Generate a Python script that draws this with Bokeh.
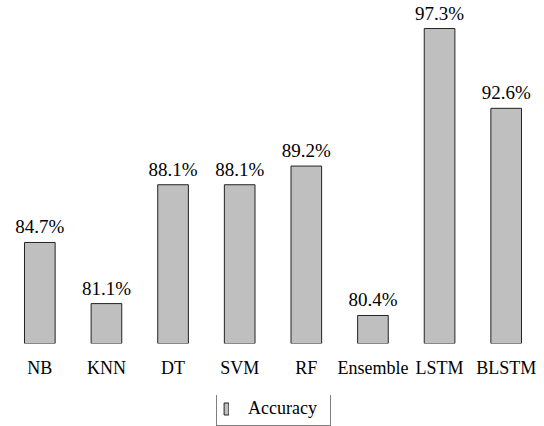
from bokeh.plotting import figure
from bokeh.layouts import column
from bokeh.models import ColumnDataSource, Range1d, Legend, LegendItem
from bokeh.core.properties import value
from bokeh.embed import file_html
from bokeh.resources import INLINE

categories = ["NB", "KNN", "DT", "SVM", "RF", "Ensemble", "LSTM", "BLSTM"]
accuracy = [84.7, 81.1, 88.1, 88.1, 89.2, 80.4, 97.3, 92.6]
labels = [f"{v}%" for v in accuracy]
series_name = "Accuracy"

Y_MIN, Y_MAX = 78.75, 98.95
FONT = "Liberation Serif"
BAR_FILL = "#bfbfbf"
BAR_LINE = "#222222"

src = ColumnDataSource(dict(cat=categories, acc=accuracy, lab=labels,
                            base=[Y_MIN] * len(categories)))

p = figure(x_range=categories, y_range=Range1d(Y_MIN, Y_MAX),
           width=544, height=395, output_backend="svg", toolbar_location=None,
           y_axis_location=None, min_border_left=6, min_border_right=5,
           min_border_top=0, min_border_bottom=52)
p.x_range.range_padding = 0
p.outline_line_color = None
p.xgrid.grid_line_color = None
p.ygrid.grid_line_color = None

bars = p.vbar(x="cat", top="acc", bottom="base", width=0.46, source=src,
              fill_color=BAR_FILL, line_color=BAR_LINE, line_width=1)

p.text(x="cat", y="acc", text="lab", source=src, text_align="center",
       text_baseline="bottom", y_offset=-5, text_font_size="19px",
       text_font=value(FONT), text_color="black")

ax = p.xaxis[0]
ax.axis_line_color = None
ax.major_tick_line_color = None
ax.minor_tick_line_color = None
ax.major_tick_out = 0
ax.major_label_standoff = 14
ax.major_label_text_font = FONT
ax.major_label_text_font_size = "18px"
ax.major_label_text_color = "black"

# Legend strip below the chart
lg = figure(width=544, height=31, output_backend="svg", toolbar_location=None,
            x_range=p.x_range, y_range=Range1d(1000, 1001),
            x_axis_location=None, y_axis_location=None,
            min_border=0, min_border_left=6, min_border_right=5,
            min_border_top=0, min_border_bottom=0)
lg.outline_line_color = None
lg.xgrid.grid_line_color = None
lg.ygrid.grid_line_color = None
proxy = lg.vbar(x="cat", top="acc", bottom="base", width=0.46, source=src,
                fill_color=BAR_FILL, line_color=BAR_LINE, line_width=1)

legend = Legend(items=[LegendItem(label=series_name, renderers=[proxy])],
                location=(210, 0), orientation="horizontal",
                glyph_width=6, glyph_height=15, label_standoff=19,
                label_width=76, label_height=20, padding=6, margin=0,
                border_line_color="black", border_line_width=1,
                label_text_font=FONT, label_text_font_size="18px",
                label_text_color="black", background_fill_color="white")
lg.add_layout(legend, "center")

layout = column(p, lg, spacing=0)
open("out.html", "w").write(file_html(layout, INLINE))
